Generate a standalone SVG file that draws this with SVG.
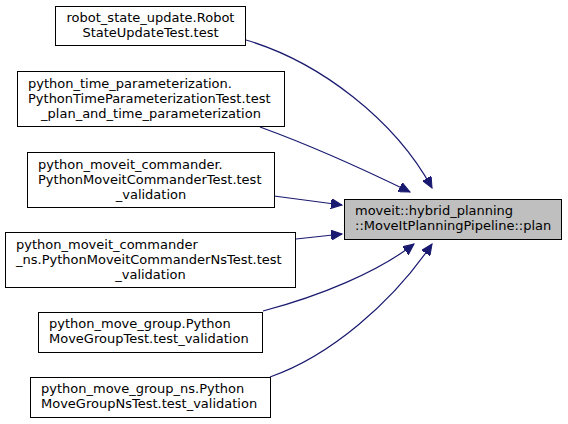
<svg xmlns="http://www.w3.org/2000/svg" width="568" height="424" viewBox="0 0 568 424">
<style>
.box{fill:#ffffff;stroke:#000000;stroke-width:1}
.tgt{fill:#bfbfbf;stroke:#000000;stroke-width:1}
text{font-family:"DejaVu Sans",sans-serif;font-size:13px;fill:#000000}
.e{fill:none;stroke:#191970;stroke-width:1.2}
.c{text-anchor:middle}
</style>
<defs>
<marker id="ah" markerWidth="12" markerHeight="10" refX="11" refY="5" orient="auto" markerUnits="userSpaceOnUse">
<path d="M0,0 L11,5 L0,10 Z" fill="#191970" stroke="#191970"/>
</marker>
</defs>
<g id="connectors">
<path class="e" d="M246,40 C320,62 395,120 432,188" marker-end="url(#ah)"/>
<path class="e" d="M260,127 C315,147 365,170 410,192" marker-end="url(#ah)"/>
<path class="e" d="M274,196 L342,205" marker-end="url(#ah)"/>
<path class="e" d="M296,239 L342,234" marker-end="url(#ah)"/>
<path class="e" d="M263,311 C320,296 378,272 414,244" marker-end="url(#ah)"/>
<path class="e" d="M270,377 C330,356 392,303 432,244" marker-end="url(#ah)"/>
</g>
<g id="target">
<rect class="tgt" x="344.5" y="199.5" width="217" height="40"/>
<text x="355" y="215">moveit::hybrid_planning</text>
<text x="355" y="230">::MoveItPlanningPipeline::plan</text>
</g>
<g id="n1">
<rect class="box" x="55.5" y="6.5" width="190" height="39"/>
<text class="c" x="150.5" y="22">robot_state_update.Robot</text>
<text class="c" x="150.5" y="37">StateUpdateTest.test</text>
</g>
<g id="n2">
<rect class="box" x="17.5" y="71.5" width="267" height="55"/>
<text x="28" y="88">python_time_parameterization.</text>
<text x="28" y="103">PythonTimeParameterizationTest.test</text>
<text class="c" x="151" y="118">_plan_and_time_parameterization</text>
</g>
<g id="n3">
<rect class="box" x="27.5" y="152.5" width="247" height="55"/>
<text x="38" y="169">python_moveit_commander.</text>
<text x="38" y="184">PythonMoveitCommanderTest.test</text>
<text class="c" x="151" y="199">_validation</text>
</g>
<g id="n4">
<rect class="box" x="5.5" y="232.5" width="290" height="55"/>
<text x="16" y="249">python_moveit_commander</text>
<text x="16" y="264">_ns.PythonMoveitCommanderNsTest.test</text>
<text class="c" x="150.5" y="279">_validation</text>
</g>
<g id="n5">
<rect class="box" x="38.5" y="312.5" width="224" height="40"/>
<text x="49" y="328">python_move_group.Python</text>
<text x="49" y="343">MoveGroupTest.test_validation</text>
</g>
<g id="n6">
<rect class="box" x="30.5" y="377.5" width="240" height="40"/>
<text x="41" y="393">python_move_group_ns.Python</text>
<text x="41" y="408">MoveGroupNsTest.test_validation</text>
</g>
</svg>
